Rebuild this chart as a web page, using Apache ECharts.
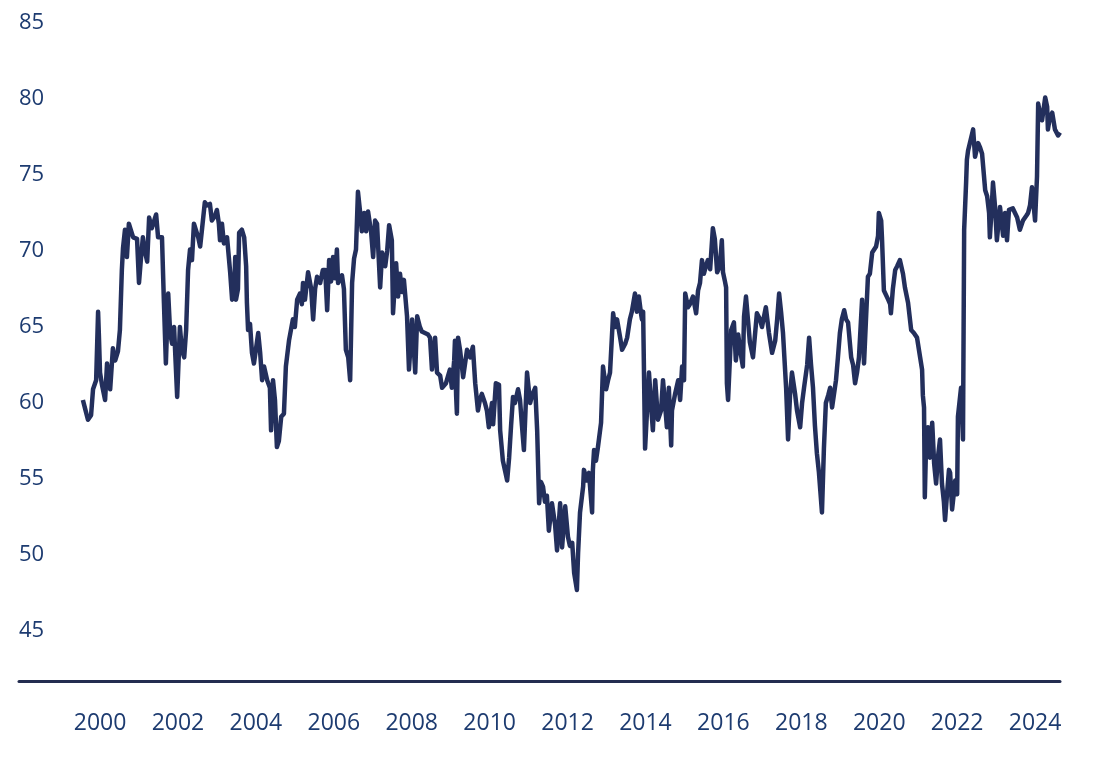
<!DOCTYPE html>
<html><head><meta charset="utf-8">
<script src="https://cdn.jsdelivr.net/npm/echarts@6/dist/echarts.min.js"></script>
<style>html,body{margin:0;padding:0;background:#fff}#c{width:1097px;height:762px}</style>
</head><body><div id="c"></div>
<script>
const dates = [1999.56,1999.62,1999.69,1999.77,1999.82,1999.90,1999.95,1999.97,2000.00,2000.05,2000.13,2000.18,2000.26,2000.33,2000.39,2000.46,2000.51,2000.56,2000.59,2000.64,2000.69,2000.74,2000.85,2000.95,2001.00,2001.05,2001.10,2001.15,2001.21,2001.26,2001.33,2001.39,2001.44,2001.49,2001.59,2001.64,2001.69,2001.75,2001.80,2001.85,2001.90,2001.98,2002.05,2002.10,2002.16,2002.21,2002.26,2002.31,2002.36,2002.41,2002.52,2002.57,2002.62,2002.69,2002.75,2002.82,2002.87,2002.95,2003.00,2003.05,2003.08,2003.13,2003.18,2003.26,2003.34,2003.39,2003.44,2003.47,2003.49,2003.54,2003.57,2003.64,2003.70,2003.75,2003.77,2003.80,2003.85,2003.90,2003.95,2004.00,2004.06,2004.11,2004.16,2004.21,2004.29,2004.36,2004.39,2004.44,2004.49,2004.54,2004.59,2004.65,2004.72,2004.77,2004.85,2004.90,2004.95,2005.00,2005.06,2005.13,2005.18,2005.21,2005.26,2005.34,2005.42,2005.47,2005.52,2005.57,2005.65,2005.72,2005.78,2005.83,2005.88,2005.93,2005.98,2006.03,2006.08,2006.11,2006.21,2006.26,2006.31,2006.37,2006.42,2006.47,2006.52,2006.57,2006.62,2006.67,2006.72,2006.78,2006.83,2006.88,2006.96,2007.01,2007.06,2007.11,2007.19,2007.24,2007.32,2007.37,2007.42,2007.47,2007.49,2007.52,2007.60,2007.65,2007.70,2007.75,2007.80,2007.88,2007.93,2008.01,2008.09,2008.14,2008.21,2008.26,2008.34,2008.42,2008.47,2008.52,2008.60,2008.65,2008.73,2008.78,2008.88,2008.98,2009.03,2009.09,2009.11,2009.14,2009.16,2009.19,2009.24,2009.32,2009.42,2009.50,2009.57,2009.63,2009.70,2009.75,2009.80,2009.88,2009.93,2009.98,2010.06,2010.09,2010.16,2010.24,2010.27,2010.34,2010.40,2010.45,2010.50,2010.55,2010.60,2010.65,2010.73,2010.78,2010.83,2010.88,2010.96,2011.04,2011.09,2011.17,2011.22,2011.27,2011.32,2011.37,2011.42,2011.47,2011.52,2011.60,2011.68,2011.73,2011.81,2011.86,2011.94,2012.01,2012.06,2012.12,2012.17,2012.24,2012.27,2012.32,2012.40,2012.42,2012.50,2012.55,2012.63,2012.65,2012.68,2012.73,2012.78,2012.86,2012.91,2012.99,2013.04,2013.09,2013.17,2013.22,2013.27,2013.35,2013.40,2013.48,2013.53,2013.60,2013.65,2013.73,2013.78,2013.83,2013.89,2013.91,2013.94,2013.99,2014.04,2014.09,2014.14,2014.19,2014.25,2014.32,2014.40,2014.45,2014.50,2014.55,2014.60,2014.66,2014.68,2014.76,2014.84,2014.89,2014.94,2014.99,2015.02,2015.09,2015.14,2015.22,2015.30,2015.35,2015.40,2015.45,2015.50,2015.55,2015.60,2015.66,2015.73,2015.78,2015.84,2015.91,2015.96,2015.99,2016.04,2016.07,2016.09,2016.12,2016.20,2016.27,2016.32,2016.38,2016.43,2016.50,2016.53,2016.58,2016.63,2016.68,2016.76,2016.86,2016.94,2016.99,2017.09,2017.17,2017.25,2017.33,2017.38,2017.43,2017.48,2017.53,2017.61,2017.66,2017.71,2017.76,2017.84,2017.89,2017.97,2018.02,2018.07,2018.15,2018.20,2018.25,2018.30,2018.35,2018.40,2018.45,2018.53,2018.58,2018.63,2018.69,2018.74,2018.79,2018.89,2018.94,2018.99,2019.04,2019.10,2019.15,2019.20,2019.28,2019.33,2019.38,2019.43,2019.48,2019.56,2019.61,2019.66,2019.71,2019.76,2019.82,2019.87,2019.92,2019.97,2019.99,2020.05,2020.07,2020.12,2020.17,2020.23,2020.28,2020.30,2020.35,2020.41,2020.46,2020.53,2020.61,2020.66,2020.74,2020.82,2020.89,2020.97,2021.05,2021.10,2021.12,2021.15,2021.17,2021.20,2021.25,2021.30,2021.36,2021.41,2021.46,2021.51,2021.56,2021.61,2021.66,2021.69,2021.74,2021.79,2021.82,2021.87,2021.95,2022.00,2022.02,2022.10,2022.15,2022.18,2022.23,2022.25,2022.28,2022.33,2022.41,2022.46,2022.54,2022.59,2022.64,2022.72,2022.77,2022.82,2022.84,2022.89,2022.92,2022.97,2023.02,2023.10,2023.18,2023.23,2023.28,2023.33,2023.43,2023.54,2023.61,2023.69,2023.77,2023.82,2023.87,2023.92,2024.00,2024.05,2024.08,2024.13,2024.18,2024.26,2024.31,2024.33,2024.38,2024.44,2024.51,2024.59,2024.64];
const values = [60.2,59.6,58.9,59.2,60.9,61.5,66.0,64.5,62.0,61.2,60.2,62.6,60.9,63.6,62.8,63.4,64.8,68.75,70.2,71.4,69.6,71.8,70.9,70.8,67.9,69.5,70.9,70.0,69.3,72.2,71.5,72.0,72.4,70.9,70.9,66.6,62.6,67.2,64.6,63.9,65.0,60.4,65.0,63.5,63.0,64.8,68.75,70.1,69.4,71.8,70.9,70.3,71.5,73.2,73.0,73.1,72.0,72.3,72.7,71.8,70.7,71.8,70.5,70.9,68.6,66.8,67.2,69.6,66.8,67.5,71.2,71.4,70.9,69.0,66.6,64.8,65.2,63.3,62.6,63.5,64.6,63.3,61.5,62.4,61.5,61.0,58.2,61.5,60.2,57.1,57.5,59.1,59.3,62.4,64.1,64.0,65.5,65.0,66.8,67.2,66.5,67.9,66.8,68.6,67.5,65.5,67.5,68.3,67.9,68.75,68.75,66.1,69.4,68.0,69.6,68.2,70.1,67.9,68.4,67.5,63.5,63.0,61.5,67.9,69.5,70.1,73.9,72.7,71.3,72.5,71.3,72.6,71.2,69.6,72.0,71.8,67.6,69.9,69.0,70.0,71.7,71.0,70.7,65.9,69.2,67.0,68.5,67.3,68.1,65.7,62.2,65.5,62.0,65.7,65.0,64.7,64.6,64.5,64.3,62.2,64.3,62.0,61.8,61.0,61.3,62.2,61.0,62.8,64.1,60.5,59.3,64.3,63.5,61.7,63.5,63.0,63.7,61.3,59.5,60.2,60.6,60.0,59.5,58.4,60.0,58.6,61.3,61.2,58.2,56.2,55.5,54.9,56.4,58.5,60.4,60.0,60.9,60.2,58.5,56.9,62.0,60.0,60.5,61.0,58.2,53.4,54.8,54.5,53.5,53.9,51.6,53.4,52.0,50.3,53.4,50.5,53.2,51.2,50.6,50.8,48.8,47.7,50.1,52.8,54.5,55.6,54.9,55.4,52.8,55.6,56.9,56.2,57.1,58.7,62.4,60.9,61.5,62.0,65.9,65.0,65.5,64.3,63.5,63.9,64.3,65.5,66.0,67.2,66.0,67.0,65.8,65.5,66.0,57.0,59.5,62.0,60.0,58.2,61.5,58.9,59.5,61.5,60.0,58.4,61.0,57.2,59.5,60.6,61.5,60.2,62.4,61.5,67.2,66.3,66.5,67.0,65.9,67.4,67.9,69.4,68.5,69.0,69.4,68.8,71.5,70.8,68.6,69.0,70.7,68.6,68.0,67.6,61.3,60.2,64.8,65.3,62.8,64.5,63.5,62.4,65.7,67.0,65.5,64.0,63.0,65.9,65.5,65.0,66.3,64.6,63.3,64.1,65.5,67.2,66.0,64.6,61.0,57.6,60.5,62.0,60.6,59.5,58.4,60.0,61.0,62.5,64.3,62.5,61.0,58.5,56.7,55.5,52.8,57.0,60.0,60.5,61.0,59.7,61.5,63.0,64.6,65.5,66.1,65.5,65.3,63.0,62.5,61.3,62.0,63.0,66.8,62.6,65.5,68.3,68.5,69.9,70.0,70.3,71.0,72.5,72.0,70.9,67.4,67.5,66.8,66.5,65.9,67.5,68.75,69.0,69.4,68.5,67.6,66.6,64.8,64.6,64.3,63.0,62.2,60.5,59.7,53.8,57.0,58.4,56.4,58.7,56.0,54.7,56.5,57.6,54.7,53.5,52.3,54.0,55.6,55.4,53.0,54.9,54.0,59.1,61.0,57.6,71.4,74.5,76.0,76.6,76.5,78.0,76.2,77.1,76.8,76.4,74.0,73.6,72.5,70.9,73.0,74.5,73.0,70.7,72.9,71.0,72.5,70.7,72.7,72.8,72.2,71.4,72.0,72.3,72.5,73.0,74.2,72.0,74.9,79.7,79.0,78.6,80.1,79.5,78.0,78.8,79.1,78.0,77.6,77.8];
const yTicks = [45,50,55,60,65,70,75,80,85];
const xTicks = [2000,2002,2004,2006,2008,2010,2012,2014,2016,2018,2020,2022,2024];

const navy = '#1d3b70';
const lineColor = '#232f5c';
const chart = echarts.init(document.getElementById('c'), null, {renderer: 'canvas'});
chart.setOption({
  animation: false,
  grid: {left: 19, right: 37, top: 23, bottom: 81, containLabel: false},
  xAxis: {
    type: 'value', min: 1997.92, max: 2024.64,
    splitLine: {show: false},
    axisTick: {show: false},
    axisLine: {show: true, lineStyle: {color: '#232d50', width: 3}},
    axisLabel: {customValues: xTicks, formatter: v => String(Math.round(v)),
      color: navy, fontFamily: 'Open Sans', fontSize: 23, margin: 31}
  },
  yAxis: {
    type: 'value', min: 41.71, max: 85,
    splitLine: {show: false},
    axisTick: {show: false},
    axisLine: {show: false},
    axisLabel: {customValues: yTicks, inside: true, margin: 0, align: 'left',
      formatter: v => String(Math.round(v)),
      color: navy, fontFamily: 'Open Sans', fontSize: 22}
  },
  series: [{
    type: 'line', showSymbol: false, symbol: 'none',
    data: dates.map((d, i) => [d, values[i]]),
    lineStyle: {color: lineColor, width: 4.5, join: 'round'}
  }]
});
</script></body></html>
